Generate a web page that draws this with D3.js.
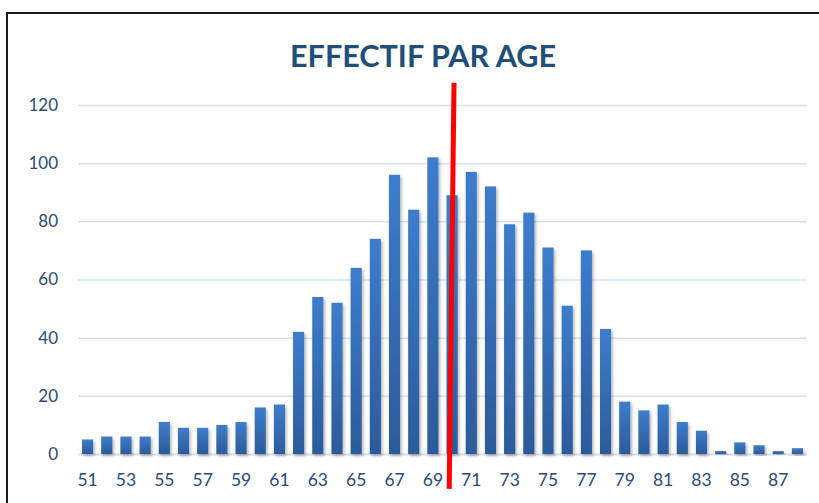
<!DOCTYPE html>
<html>
<head>
<meta charset="utf-8">
<script src="https://cdn.jsdelivr.net/npm/d3@7"></script>
<style>
  body { margin: 0; background: #fff; }
  svg { display: block; }
</style>
</head>
<body>
<div id="chart"></div>
<script>
// ages (categories)
var ages = d3.range(51, 89);

// number of people per age
var counts = [5, 6, 6, 6, 11, 9, 9, 10, 11, 16, 17, 42, 54, 52, 64, 74, 96, 84, 102, 89,
              97, 92, 79, 83, 71, 51, 70, 43, 18, 15, 17, 11, 8, 1, 4, 3, 1, 2];

// y tick labels
var yTicks = [0, 20, 40, 60, 80, 100, 120];

// x tick labels (every other age)
var xTicks = ages.filter(function(a) { return a % 2 === 1; });

// red marker line, in data units: [age at top, age at bottom], [value top, value bottom]
var markerAge = [70.1, 69.85];
var markerValue = [127.6, -12];

var W = 819, H = 503;
var margin = {top: 105, right: 12, bottom: 49, left: 78},
    width = W - margin.left - margin.right,
    height = H - margin.top - margin.bottom;

var svg = d3.select("#chart")
  .append("svg")
    .attr("width", W)
    .attr("height", H);

var defs = svg.append("defs");
var grad = defs.append("linearGradient")
    .attr("id", "barGrad")
    .attr("x1", 0).attr("y1", 0).attr("x2", 0).attr("y2", 1);
grad.append("stop").attr("offset", "0%").attr("stop-color", "#3d7dcc");
grad.append("stop").attr("offset", "100%").attr("stop-color", "#2c5b9a");

var shadow = defs.append("filter").attr("id", "shadow")
    .attr("x", "-50%").attr("y", "-10%").attr("width", "200%").attr("height", "130%");
shadow.append("feDropShadow")
    .attr("dx", 1.5).attr("dy", 2).attr("stdDeviation", 1.6)
    .attr("flood-color", "#000").attr("flood-opacity", 0.3);

// outer frame
svg.append("rect")
  .attr("x", 7).attr("y", 13)
  .attr("width", W + 20).attr("height", H + 20)
  .attr("fill", "none")
  .attr("stroke", "#1a1a1a")
  .attr("stroke-width", 2);

// title
svg.append("text")
  .attr("x", 423)
  .attr("y", 67)
  .attr("text-anchor", "middle")
  .attr("textLength", 266)
  .attr("lengthAdjust", "spacingAndGlyphs")
  .style("font-family", "Lato, 'Open Sans', sans-serif")
  .style("font-weight", "bold")
  .style("font-size", "30px")
  .style("fill", "#1f4e79")
  .text("EFFECTIF PAR AGE");

var g = svg.append("g")
  .attr("transform", "translate(" + margin.left + "," + margin.top + ")");

var x = d3.scaleBand()
  .domain(ages)
  .range([0, width])
  .paddingInner(0.42)
  .paddingOuter(0.21);

var y = d3.scaleLinear()
  .domain([0, 120])
  .range([height, 0]);

// age -> pixel center, for the marker
var xAge = d3.scaleLinear()
  .domain([ages[0], ages[ages.length - 1]])
  .range([x(ages[0]) + x.bandwidth() / 2, x(ages[ages.length - 1]) + x.bandwidth() / 2]);

// grid lines
g.append("g")
  .call(d3.axisLeft(y).tickValues(yTicks).tickSize(-width).tickFormat(""))
  .call(function(s) { s.select(".domain").remove(); })
  .selectAll("line")
    .attr("stroke", "#d6e0ef")
    .attr("stroke-width", function(d) { return d === 0 ? 2 : 1.5; });

// y labels
var yAxis = g.append("g")
  .attr("transform", "translate(-20,0)")
  .call(d3.axisLeft(y).tickValues(yTicks).tickSize(0));
yAxis.select(".domain").remove();
yAxis.selectAll("text")
  .attr("x", 0)
  .style("font-family", "Lato, 'Open Sans', sans-serif")
  .style("font-size", "17px")
  .style("fill", "#2b4a76");

// bars
g.selectAll("rect.bar")
  .data(counts)
  .enter()
  .append("rect")
    .attr("class", "bar")
    .attr("x", function(d, i) { return x(ages[i]); })
    .attr("y", function(d) { return y(d); })
    .attr("width", x.bandwidth())
    .attr("height", function(d) { return height - y(d); })
    .attr("fill", "url(#barGrad)")
    .attr("filter", "url(#shadow)");

// x labels
var xAxis = g.append("g")
  .attr("transform", "translate(0," + height + ")")
  .call(d3.axisBottom(x).tickValues(xTicks).tickSize(0).tickPadding(20));
xAxis.select(".domain").remove();
xAxis.selectAll("text")
  .style("font-family", "Lato, 'Open Sans', sans-serif")
  .style("font-size", "17.5px")
  .style("fill", "#2b4a76");

// red marker
g.append("line")
  .attr("x1", xAge(markerAge[0]))
  .attr("y1", y(markerValue[0]))
  .attr("x2", xAge(markerAge[1]))
  .attr("y2", y(markerValue[1]))
  .attr("stroke", "#ff0000")
  .attr("stroke-width", 5);
</script>
</body>
</html>
